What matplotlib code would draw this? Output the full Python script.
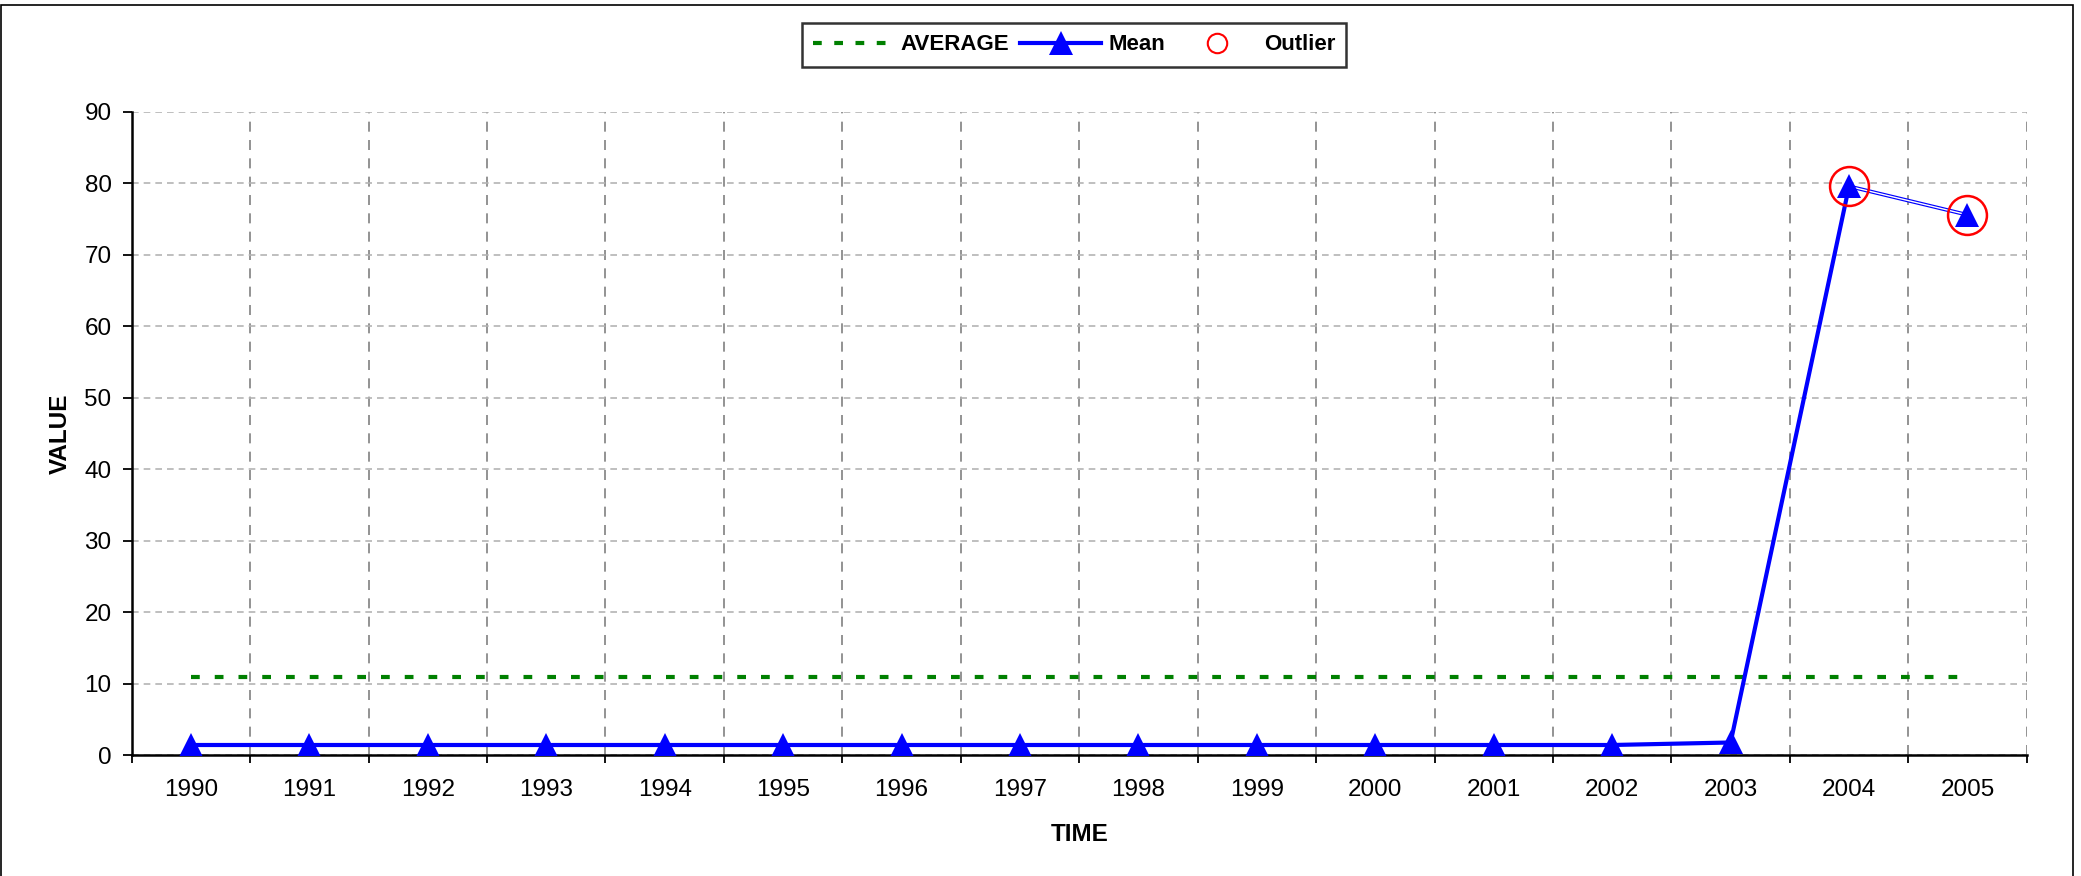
import numpy as np
import matplotlib
matplotlib.use("Agg")
import matplotlib.pyplot as plt
from matplotlib.lines import Line2D
from matplotlib.patches import Rectangle

years = ["1990", "1991", "1992", "1993", "1994", "1995", "1996", "1997",
         "1998", "1999", "2000", "2001", "2002", "2003", "2004", "2005"]
mean_values = [1.4, 1.4, 1.4, 1.4, 1.4, 1.4, 1.4, 1.4,
               1.4, 1.4, 1.4, 1.4, 1.4, 1.75, 79.6, 75.6]
average_values = [10.95] * 16
outlier_values = [np.nan] * 14 + [79.6, 75.6]
y_ticks = [0, 10, 20, 30, 40, 50, 60, 70, 80, 90]

plt.rcParams['font.family'] = ['Liberation Sans', 'DejaVu Sans']

W, H, DPI = 2081, 876, 100
fig = plt.figure(figsize=(W / DPI, H / DPI), dpi=DPI)
ax = fig.add_axes([131.7 / W, 121 / H, (2026.7 - 131.7) / W, (755 - 112) / H])

x = np.arange(len(years))

# Average line
ax.plot(x, average_values, color='#008000', lw=3.0, dashes=(2.1, 3.6),
        solid_capstyle='butt', dash_capstyle='butt', zorder=3)

# Mean line (solid up to 2004, double line 2004-2005)
ax.plot(x[:15], mean_values[:15], color='#0000ff', lw=3.0, zorder=4)
ax.plot(x[14:], mean_values[14:], color='#0000ff', lw=2.7, zorder=4,
        solid_capstyle='butt')
ax.plot(x[14:], mean_values[14:], color='white', lw=1.0, zorder=4.1,
        solid_capstyle='butt')
ax.plot(x, mean_values, linestyle='none', marker='^', markersize=17,
        color='#0000ff', markeredgewidth=0, zorder=5)

# Outliers
ax.plot(x, outlier_values, linestyle='none', marker='o', markersize=28,
        markerfacecolor='none', markeredgecolor='#ff0000',
        markeredgewidth=1.8, zorder=6)

ax.set_xlim(-0.5, len(years) - 0.5)
ax.set_ylim(0, 90)
ax.set_yticks(y_ticks)
ax.set_xticks(x)
ax.set_xticklabels(years)
ax.set_xticks(np.arange(-0.5, len(years)), minor=True)

ax.tick_params(axis='x', which='major', length=0, pad=17, labelsize=17.5)
ax.tick_params(axis='x', which='minor', length=6, width=1.3, direction='out')
ax.tick_params(axis='y', which='major', length=6.5, width=1.3, pad=8, labelsize=17.5)

for s in ['top', 'right']:
    ax.spines[s].set_visible(False)
for s in ['left', 'bottom']:
    ax.spines[s].set_linewidth(1.8)
    ax.spines[s].set_color('black')

ax.grid(False)
ax.grid(axis='y', which='major', color='#b4b4b4', linestyle=(0, (4, 3)), lw=1.2)
ax.grid(axis='x', which='minor', color='#808080', linestyle=(0, (6, 5)), lw=1.2)
ax.set_axisbelow(True)

ax.set_xlabel('TIME', fontsize=17.5, fontweight='bold', labelpad=16)
ax.set_ylabel('VALUE', fontsize=17.5, fontweight='bold', labelpad=9)

handles = [
    Line2D([], [], color='#008000', lw=3.0, dashes=(2.1, 3.0), dash_capstyle='butt'),
    Line2D([], [], color='#0000ff', lw=3.0, marker='^', markersize=17, markeredgewidth=0),
    Line2D([], [], linestyle='none', marker='o', markersize=14, markerfacecolor='none',
           markeredgecolor='#ff0000', markeredgewidth=1.5),
]
leg = fig.legend(handles, ['AVERAGE', 'Mean', 'Outlier'], ncol=3,
                 loc='center', bbox_to_anchor=(1074 / W, 1 - 45 / H),
                 frameon=True, fancybox=False, edgecolor='black',
                 prop={'weight': 'bold', 'size': 16},
                 handlelength=3.65, handletextpad=0.3, columnspacing=0.5,
                 borderpad=0.5)
leg.get_frame().set_linewidth(1.8)

fig.patches.append(Rectangle((1 / W, -0.01), (2073 - 1) / W, 1.01 - 5 / H,
                             transform=fig.transFigure, fill=False,
                             edgecolor='black', lw=1.2, zorder=0))

fig.savefig('out.png', dpi=DPI)
